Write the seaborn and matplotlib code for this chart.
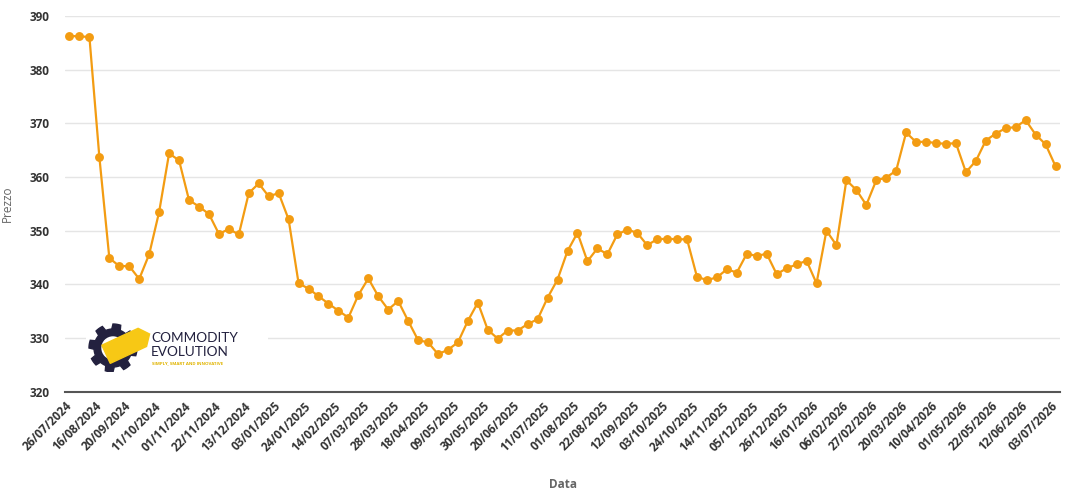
import numpy as np
import pandas as pd
import matplotlib
matplotlib.use('Agg')
import matplotlib.pyplot as plt
import seaborn as sns
from matplotlib.patches import Polygon, Circle

# Weekly prices (100 points)
prices = [
    386.3, 386.2, 386.1, 363.7, 344.9, 343.4, 343.4, 341.0, 345.6, 353.5,
    364.4, 363.1, 355.7, 354.5, 353.1, 349.4, 350.3, 349.3, 357.0, 358.8,
    356.4, 357.0, 352.1, 340.2, 339.2, 337.8, 336.4, 335.1, 333.8, 338.0,
    341.1, 337.8, 335.3, 336.9, 333.2, 329.6, 329.2, 327.0, 327.8, 329.2,
    333.2, 336.6, 331.5, 329.9, 331.4, 331.4, 332.6, 333.5, 337.5, 340.9,
    346.2, 349.6, 344.3, 346.7, 345.6, 349.3, 350.2, 349.6, 347.3, 348.4,
    348.5, 348.4, 348.4, 341.4, 340.8, 341.3, 342.8, 342.2, 345.7, 345.3,
    345.7, 341.9, 343.0, 343.7, 344.4, 340.2, 350.0, 347.3, 359.4, 357.6,
    354.8, 359.4, 359.9, 361.2, 368.3, 366.5, 366.6, 366.3, 366.2, 366.3,
    360.9, 363.0, 366.8, 368.1, 369.1, 369.3, 370.6, 367.9, 366.1, 362.0,
]

# one label every 3 points
tick_labels = [
    '26/07/2024', '16/08/2024', '20/09/2024', '11/10/2024', '01/11/2024',
    '22/11/2024', '13/12/2024', '03/01/2025', '24/01/2025', '14/02/2025',
    '07/03/2025', '28/03/2025', '18/04/2025', '09/05/2025', '30/05/2025',
    '20/06/2025', '11/07/2025', '01/08/2025', '22/08/2025', '12/09/2025',
    '03/10/2025', '24/10/2025', '14/11/2025', '05/12/2025', '26/12/2025',
    '16/01/2026', '06/02/2026', '27/02/2026', '20/03/2026', '10/04/2026',
    '01/05/2026', '22/05/2026', '12/06/2026', '03/07/2026',
]

df = pd.DataFrame({'idx': np.arange(len(prices)), 'Prezzo': prices})

sns.set_style('white')
plt.rcParams['font.family'] = ['Open Sans', 'DejaVu Sans']

fig = plt.figure(figsize=(10.89, 4.93), dpi=100)
ax = fig.add_axes([0.0597, 0.2055, 0.9137, 0.762])

orange = '#f39c12'
sns.lineplot(data=df, x='idx', y='Prezzo', ax=ax, color=orange, linewidth=1.6,
             marker='o', markersize=6.4, markeredgewidth=0, zorder=3)

ax.set_ylim(320, 390)
ax.set_yticks(range(320, 391, 10))
ax.set_xlim(-0.45, len(prices) - 1 + 0.45)
ax.set_xticks(np.arange(0, len(prices), 3))
ax.set_xticklabels(tick_labels, rotation=45, ha='right', va='center',
                   rotation_mode='anchor')

ax.grid(axis='y', color='#e5e5e5', linewidth=1)
ax.set_axisbelow(True)
for s in ['left', 'right', 'top']:
    ax.spines[s].set_visible(False)
ax.spines['bottom'].set_color('#555555')
ax.spines['bottom'].set_linewidth(1.5)

ax.tick_params(axis='y', length=0, pad=11, labelsize=8.5, labelcolor='#333333')
ax.tick_params(axis='x', length=0, pad=9, labelsize=8.5, labelcolor='#333333')
for lab in ax.get_xticklabels() + ax.get_yticklabels():
    lab.set_fontweight('bold')

ax.set_xlabel('Data', fontsize=8.5, color='#666666', fontweight='bold')
ax.set_ylabel('Prezzo', fontsize=8.5, color='#666666')
ax.xaxis.set_label_coords(0.5, -0.23)
ax.yaxis.set_label_coords(-0.051, 0.5)

# watermark logo
lax = fig.add_axes([86 / 1089, 1 - 372 / 493, 182 / 1089, 52 / 493])
lax.set_xlim(0, 182)
lax.set_ylim(52, 0)
lax.axis('off')
lax.add_patch(Polygon([[0, 0], [182, 0], [182, 52], [0, 52]], color='white', zorder=0))
navy = '#23213f'
ang = np.linspace(0, 2 * np.pi, 97)[:-1]
rad = np.where((np.arange(96) // 6) % 2 == 0, 24, 19)
lax.add_patch(Polygon(np.c_[27 + rad * np.cos(ang), 28 + rad * np.sin(ang)],
                      color=navy, zorder=1))
lax.add_patch(Circle((27, 28), 11, color='white', zorder=2))
t = np.deg2rad(-25)
rect = np.array([[-22, -10], [18, -10], [26, 0], [18, 10], [-22, 10]])
rot = rect @ np.array([[np.cos(t), np.sin(t)], [-np.sin(t), np.cos(t)]])
lax.add_patch(Polygon(rot + [40, 25], color='#f7c815', zorder=3))
lax.text(65, 18.5, 'COMMODITY', color=navy, fontsize=9.8, va='center', ha='left',
         family='Lato')
lax.text(65, 32, 'EVOLUTION', color=navy, fontsize=9.8, va='center', ha='left',
         family='Lato')
lax.text(66, 43, 'SIMPLY, SMART AND INNOVATIVE', color='#e0b400', fontsize=3.2,
         va='center', ha='left', fontweight='bold')

fig.savefig('out.png', dpi=100)
